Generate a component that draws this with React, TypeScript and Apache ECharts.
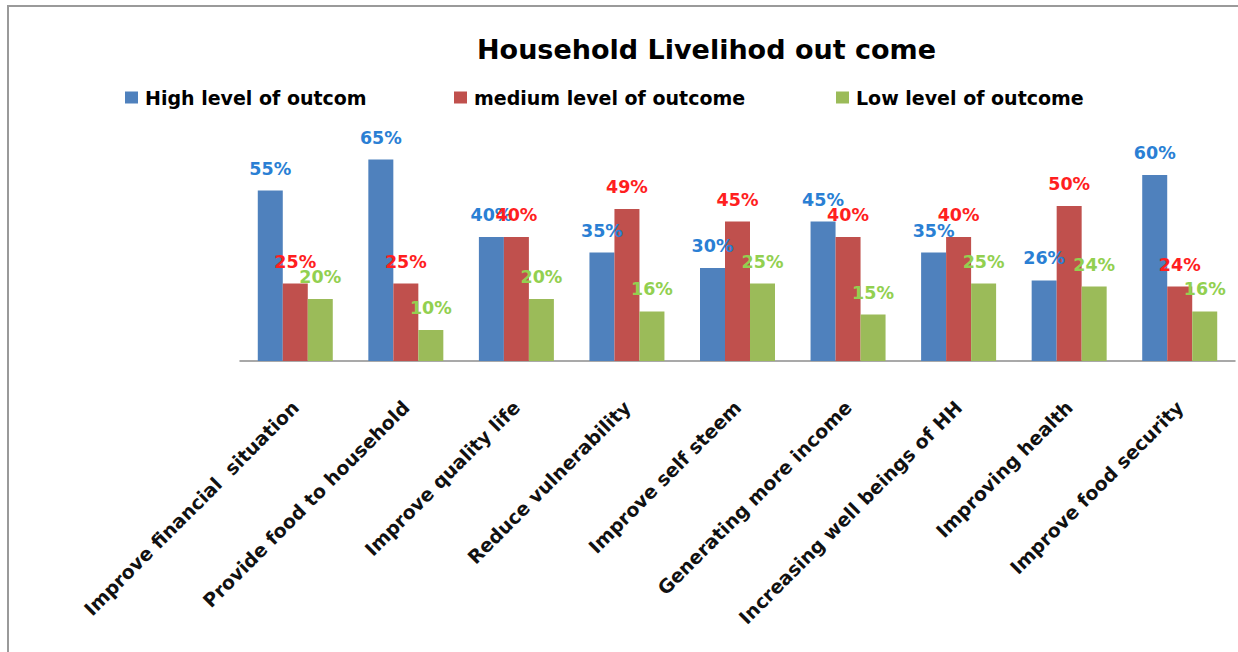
import React, { useEffect, useRef } from "react";
import * as echarts from "echarts";

const categories = [
  "Improve financial  situation",
  "Provide food to household",
  "Improve quality life",
  "Reduce vulnerability",
  "Improve self steem",
  "Generating more income",
  "Increasing well beings of HH",
  "Improving health",
  "Improve food security",
];
const seriesNames = ["High level of outcom", "medium level of outcome", "Low level of outcome"];
const highValues = [55, 65, 40, 35, 30, 45, 35, 26, 60];
const mediumValues = [25, 25, 40, 49, 45, 40, 40, 50, 24];
const lowValues = [20, 10, 20, 16, 25, 15, 25, 24, 16];
const barColors = ["#4F81BD", "#C0504D", "#9BBB59"];
const labelColors = ["#2A7FD4", "#FF1F1F", "#92D050"];
const legendLefts = [120, 449, 831];

const FONT = "DejaVu Sans";

export default function App() {
  const ref = useRef<HTMLDivElement>(null);
  useEffect(() => {
    if (!ref.current) return;
    const chart = echarts.init(ref.current, null, { renderer: "svg" });
    const values = [highValues, mediumValues, lowValues];
    chart.setOption({
      animation: false,
      backgroundColor: "#ffffff",
      title: {
        text: "Household Livelihod out come",
        left: 472,
        top: 31,
        textStyle: { fontFamily: FONT, fontWeight: "bold", fontSize: 27, color: "#000" },
      },
      legend: seriesNames.map((n, i) => ({
        data: [n],
        left: legendLefts[i],
        top: 83,
        itemWidth: 13,
        itemHeight: 12,
        icon: "rect",
        textStyle: { fontFamily: FONT, fontWeight: "bold", fontSize: 19, color: "#000", padding: [0, 0, 0, 2] },
      })),
      grid: { left: 240, right: 3, top: 144, bottom: 291, containLabel: false },
      xAxis: {
        type: "category",
        data: categories,
        axisTick: { show: false },
        axisLine: { lineStyle: { color: "#8c8c8c", width: 1.5 } },
        axisLabel: {
          interval: 0,
          rotate: 45,
          margin: 43,
          fontFamily: FONT,
          fontWeight: "bold",
          fontSize: 19,
          color: "#111",
        },
      },
      yAxis: { type: "value", min: 0, max: 70, show: false, splitLine: { show: false } },
      graphic: [
        {
          type: "rect",
          shape: { x: 8, y: 6, width: 1300, height: 700 },
          style: { fill: "none", stroke: "#9a9a9a", lineWidth: 2 },
          silent: true,
          z: -1,
        },
      ],
      series: seriesNames.map((n, i) => ({
        name: n,
        type: "bar",
        data: values[i],
        barWidth: 25,
        barGap: "0%",
        itemStyle: { color: barColors[i] },
        label: {
          show: true,
          position: "top",
          distance: 13,
          formatter: "{c}%",
          fontFamily: FONT,
          fontWeight: "bold",
          fontSize: 17.5,
          color: labelColors[i],
        },
      })),
    });
    return () => chart.dispose();
  }, []);
  return <div ref={ref} style={{ position: "absolute", left: 0, top: 0, width: 1238, height: 652 }} />;
}
